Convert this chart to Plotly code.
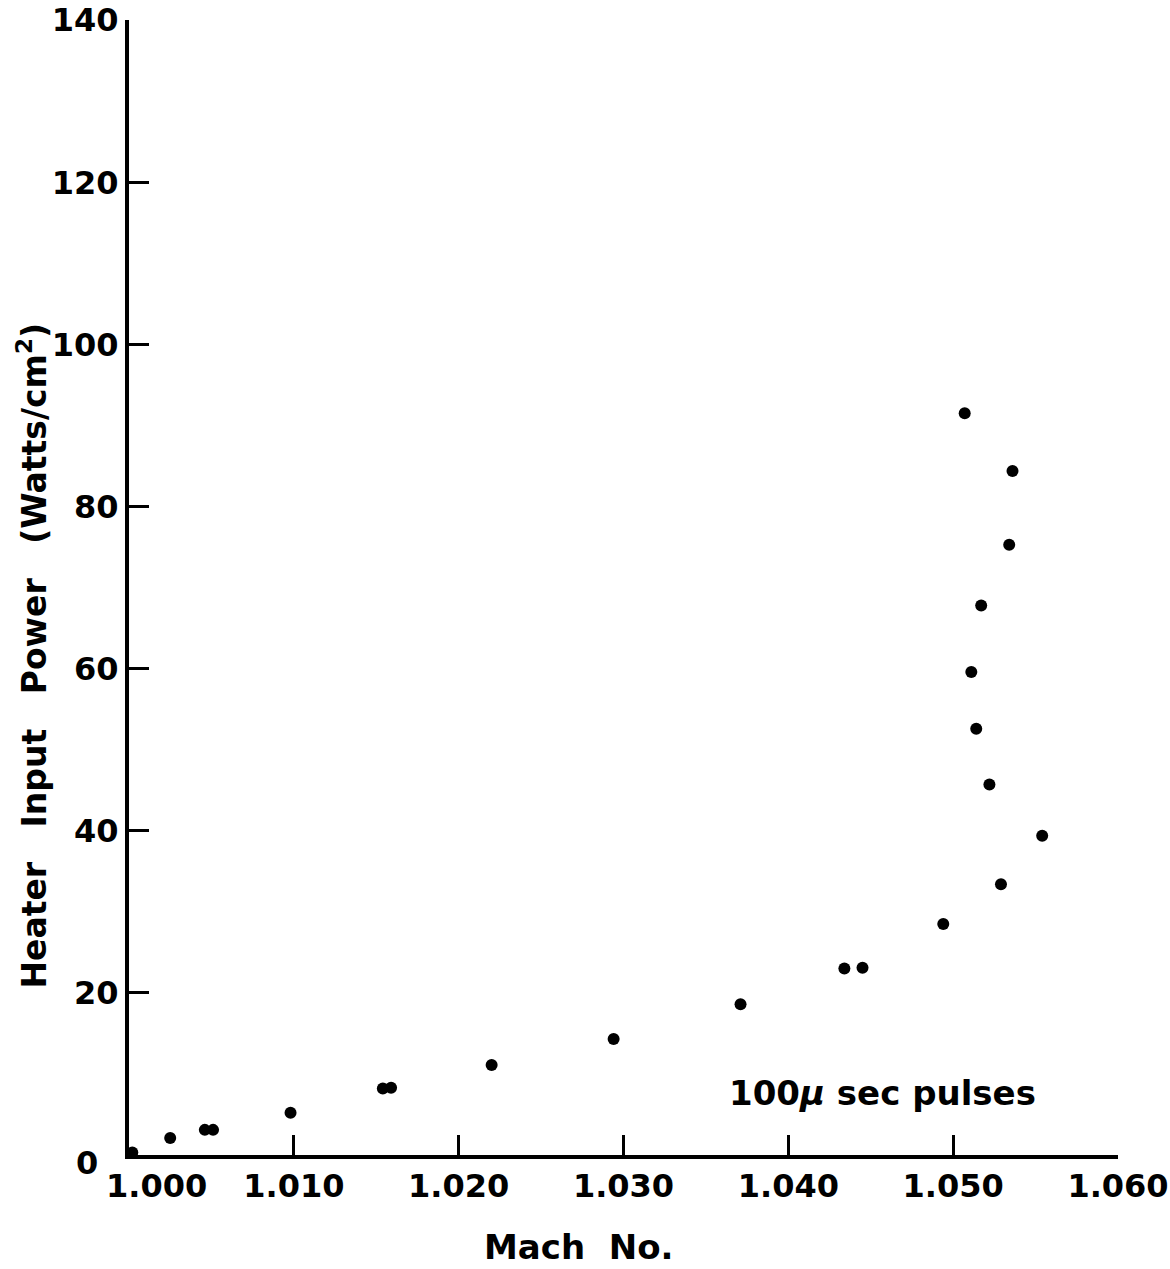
import plotly.graph_objects as go

mach = [1.0002, 1.0025, 1.0046, 1.0051, 1.0098, 1.0154, 1.0159, 1.0220, 1.0294,
        1.0371, 1.0434, 1.0445, 1.0494, 1.0507, 1.0536, 1.0534, 1.0517, 1.0511,
        1.0514, 1.0522, 1.0554, 1.0529]
power = [0.3, 2.1, 3.1, 3.1, 5.2, 8.2, 8.3, 11.1, 14.3,
         18.6, 23.0, 23.1, 28.5, 91.5, 84.4, 75.3, 67.8, 59.6,
         52.6, 45.7, 39.4, 33.4]

x_ticks = [1.000, 1.010, 1.020, 1.030, 1.040, 1.050, 1.060]
x_tick_labels = ["1.000", "1.010", "1.020", "1.030", "1.040", "1.050", "1.060"]
y_ticks = [0, 20, 40, 60, 80, 100, 120, 140]
y_tick_labels = ["0", "20", "40", "60", "80", "100", "120", "140"]

FONT = "DejaVu Sans"
TICKFONT = dict(family=FONT, size=32, color="black", weight="bold")

fig = go.Figure()
fig.add_trace(go.Scatter(
    x=mach, y=power, mode="markers",
    marker=dict(color="black", size=12),
    cliponaxis=False, showlegend=False,
))

# The corner labels (first x tick, first y tick) are hand-offset in the original,
# so they are drawn as annotations anchored to their tick values; their tick marks
# coincide with the axis lines, so the axes carry the remaining ticks only.
fig.update_layout(
    width=1170, height=1269,
    margin=dict(l=129, r=52, t=20, b=114, autoexpand=False),
    paper_bgcolor="white", plot_bgcolor="white",
    font=dict(family=FONT, color="black"),
    xaxis=dict(
        range=[1.000, 1.060], tickvals=x_ticks[1:], ticktext=x_tick_labels[1:],
        automargin=False,
        showgrid=False, zeroline=False, showline=True, linewidth=4, linecolor="black",
        ticks="inside", ticklen=20, tickwidth=3, tickcolor="black",
        tickfont=TICKFONT,
    ),
    yaxis=dict(
        range=[0, 140.03], tickvals=y_ticks[1:], ticktext=y_tick_labels[1:],
        automargin=False,
        showgrid=False, zeroline=False, showline=True, linewidth=4, linecolor="black",
        ticks="inside", ticklen=20, tickwidth=3, tickcolor="black",
        tickfont=TICKFONT,
    ),
    annotations=[
        dict(text=x_tick_labels[0], xref="x", yref="y", x=x_ticks[0], y=y_ticks[0],
             xshift=27, yshift=-31, xanchor="center", yanchor="middle",
             showarrow=False, font=TICKFONT),
        dict(text=y_tick_labels[0], xref="x", yref="y", x=x_ticks[0], y=y_ticks[0],
             xshift=-42, yshift=-8, xanchor="center", yanchor="middle",
             showarrow=False, font=TICKFONT),
        dict(text="<b>Heater   Input   Power   (Watts/cm<sup>2</sup>)</b>",
             xref="paper", yref="paper", x=0, y=0.44, xshift=-96,
             xanchor="center", yanchor="middle", textangle=-90, showarrow=False,
             font=dict(family=FONT, size=33, color="black")),
        dict(text="<b>Mach  No.</b>",
             xref="paper", yref="paper", x=0.455, y=0, yshift=-92,
             xanchor="center", yanchor="middle", showarrow=False,
             font=dict(family=FONT, size=34, color="black")),
        dict(text="<b>100<i>μ</i> sec pulses</b>",
             xref="x", yref="y", x=1.0457, y=7.7,
             xanchor="center", yanchor="middle", showarrow=False,
             font=dict(family=FONT, size=34, color="black")),
    ],
)

fig.write_html("out.html")
